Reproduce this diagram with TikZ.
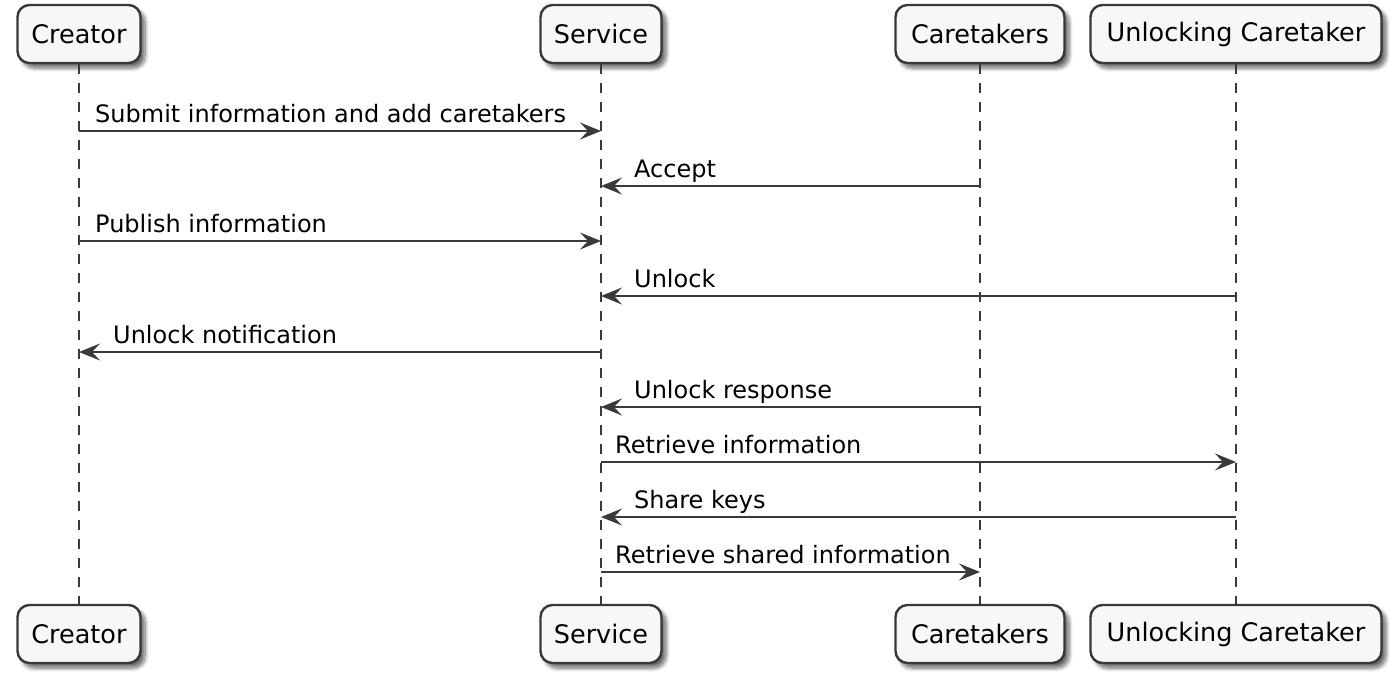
\documentclass[tikz,border=0pt]{standalone}
\usepackage{fontspec}
\setmainfont{DejaVu Sans}
\usetikzlibrary{arrows.meta,shadows.blur,calc}
\definecolor{linec}{HTML}{3A3A3A}
\definecolor{boxfill}{HTML}{F7F7F7}
\definecolor{boxline}{HTML}{383838}
\begin{document}
\begin{tikzpicture}[x=1pt,y=-1pt,
  part/.style={draw=boxline, line width=2.4pt, fill=boxfill, rounded corners=12pt,
    minimum height=58pt, inner sep=0pt, text=black,
    font=\fontsize{25.5}{30}\selectfont,
    blur shadow={shadow xshift=4.5pt, shadow yshift=-5pt, shadow blur steps=8, shadow opacity=60, shadow blur radius=4pt}},
  lifeline/.style={draw=linec, line width=1.8pt, dash pattern=on 9.5pt off 9.5pt},
  msg/.style={draw=linec, line width=2pt, -{Stealth[length=21pt,width=17pt,inset=8pt]}},
  lbl/.style={font=\fontsize{24}{28}\selectfont, text=black, inner sep=0pt, anchor=base west}]
\useasboundingbox (0,0) rectangle (1397,681);
% participants (top)
\node[part, minimum width=123pt] (cT) at (79,34) {Creator};
\node[part, minimum width=121pt] (sT) at (601,34) {Service};
\node[part, minimum width=169pt] (kT) at (980,34) {Caretakers};
\node[part, minimum width=291pt] (uT) at (1236,34) {Unlocking Caretaker};
% participants (bottom)
\node[part, minimum width=123pt] (cB) at (79,634) {Creator};
\node[part, minimum width=121pt] (sB) at (601,634) {Service};
\node[part, minimum width=169pt] (kB) at (980,634) {Caretakers};
\node[part, minimum width=291pt] (uB) at (1236,634) {Unlocking Caretaker};
% lifelines
\draw[lifeline] (cT.south) -- (cB.north);
\draw[lifeline] (sT.south) -- (sB.north);
\draw[lifeline] (kT.south) -- (kB.north);
\draw[lifeline] (uT.south) -- (uB.north);
% message rows
\coordinate (m1) at (0,131);
\coordinate (m2) at (0,186);
\coordinate (m3) at (0,241);
\coordinate (m4) at (0,296);
\coordinate (m5) at (0,352);
\coordinate (m6) at (0,407);
\coordinate (m7) at (0,462);
\coordinate (m8) at (0,517);
\coordinate (m9) at (0,572);
% messages
\draw[msg] (cT |- m1) -- (sT |- m1);
\node[lbl] (t1) at ($(cT |- m1)+(16,-9)$) {Submit information and add caretakers};
\draw[msg] (kT |- m2) -- (sT |- m2);
\node[lbl] (t2) at ($(sT |- m2)+(33,-9)$) {Accept};
\draw[msg] (cT |- m3) -- (sT |- m3);
\node[lbl] (t3) at ($(cT |- m3)+(16,-9)$) {Publish information};
\draw[msg] (uT |- m4) -- (sT |- m4);
\node[lbl] (t4) at ($(sT |- m4)+(33,-9)$) {Unlock};
\draw[msg] (sT |- m5) -- (cT |- m5);
\node[lbl] (t5) at ($(cT |- m5)+(34,-9)$) {Unlock notification};
\draw[msg] (kT |- m6) -- (sT |- m6);
\node[lbl] (t6) at ($(sT |- m6)+(33,-9)$) {Unlock response};
\draw[msg] (sT |- m7) -- (uT |- m7);
\node[lbl] (t7) at ($(sT |- m7)+(14,-9)$) {Retrieve information};
\draw[msg] (uT |- m8) -- (sT |- m8);
\node[lbl] (t8) at ($(sT |- m8)+(33,-9)$) {Share keys};
\draw[msg] (sT |- m9) -- (kT |- m9);
\node[lbl] (t9) at ($(sT |- m9)+(14,-9)$) {Retrieve shared information};
\end{tikzpicture}
\end{document}
